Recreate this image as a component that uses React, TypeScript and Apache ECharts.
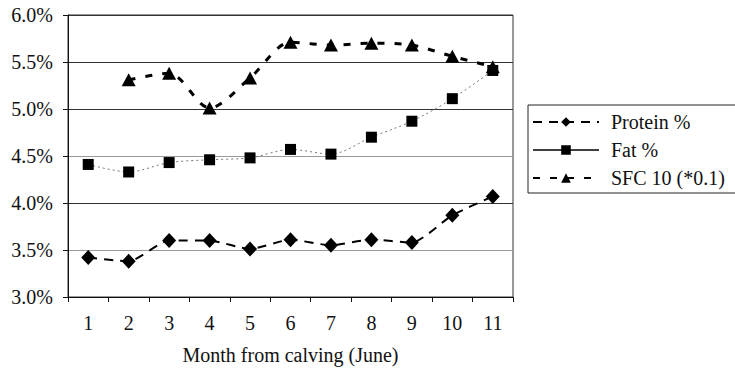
import React, { useEffect, useRef } from "react";
import * as echarts from "echarts";

// Months from calving
const months = ["1", "2", "3", "4", "5", "6", "7", "8", "9", "10", "11"];

// Milk composition by month (%)
const protein = [3.42, 3.38, 3.6, 3.6, 3.51, 3.61, 3.55, 3.61, 3.58, 3.87, 4.07];
const fat = [4.41, 4.33, 4.43, 4.46, 4.48, 4.57, 4.52, 4.7, 4.87, 5.11, 5.41];
// Solid fat content at 10 °C, scaled by 0.1 (no value for month 1)
const sfc10 = [null, 5.31, 5.38, 5.01, 5.33, 5.71, 5.68, 5.7, 5.68, 5.56, 5.45];

const seriesNames = ["Protein %", "Fat %", "SFC 10 (*0.1)"];

const FONT = "Liberation Serif";
const FS = 20;

export default function App() {
  const ref = useRef<HTMLDivElement>(null);

  useEffect(() => {
    if (!ref.current) return;
    const chart = echarts.init(ref.current, undefined, { renderer: "svg" });
    chart.setOption({
      animation: false,
      backgroundColor: "#fff",
      textStyle: { fontFamily: FONT, color: "#111" },
      grid: {
        left: 68,
        right: 222,
        top: 15,
        bottom: 76,
        show: true,
        borderColor: "#333",
        borderWidth: 1,
      },
      legend: {
        orient: "vertical",
        left: 528,
        top: 105,
        padding: [7, 60, 5, 4],
        itemWidth: 66,
        itemHeight: 12,
        itemGap: 8,
        borderColor: "#222",
        borderWidth: 1,
        textStyle: { fontFamily: FONT, fontSize: FS, color: "#111", padding: [0, 0, 0, 7] },
        data: [
          { name: seriesNames[0] },
          { name: seriesNames[1], lineStyle: { type: "solid", color: "#000", width: 1.5 } },
          { name: seriesNames[2] },
        ],
      },
      xAxis: {
        type: "category",
        data: months,
        boundaryGap: true,
        name: "Month from calving (June)",
        nameLocation: "middle",
        nameGap: 48,
        nameTextStyle: { fontFamily: FONT, fontSize: FS, color: "#111" },
        axisLine: { lineStyle: { color: "#111", width: 1 } },
        axisTick: { show: true, inside: false, length: 5, lineStyle: { color: "#111" } },
        axisLabel: { fontFamily: FONT, fontSize: FS, color: "#111", margin: 16 },
        splitLine: { show: false },
      },
      yAxis: {
        type: "value",
        min: 3,
        max: 6,
        interval: 0.5,
        axisLine: { show: true, lineStyle: { color: "#111", width: 1 } },
        axisTick: { show: true, inside: false, length: 5, lineStyle: { color: "#111" } },
        axisLabel: {
          fontFamily: FONT,
          fontSize: FS,
          color: "#111",
          margin: 15,
          formatter: (v: number) => v.toFixed(1) + "%",
        },
        splitLine: {
          show: true,
          lineStyle: {
            color: ["#333", "#999", "#333", "#999", "#333", "#333", "#333"],
            width: 1,
          },
        },
      },
      series: [
        {
          name: seriesNames[0],
          type: "line",
          data: protein,
          smooth: 0.2,
          symbol: "diamond",
          symbolSize: [14, 15],
          itemStyle: { color: "#000" },
          lineStyle: { color: "#000", width: 2, type: [9, 7] },
          z: 3,
        },
        {
          name: seriesNames[1],
          type: "line",
          data: fat,
          smooth: 0.3,
          symbol: "rect",
          symbolSize: 11,
          itemStyle: { color: "#000" },
          lineStyle: { color: "#777", width: 1, type: [2, 3] },
          z: 3,
        },
        {
          name: seriesNames[2],
          type: "line",
          data: sfc10,
          connectNulls: false,
          smooth: 0.3,
          symbol: "triangle",
          symbolSize: [14, 13],
          itemStyle: { color: "#000" },
          lineStyle: { color: "#000", width: 3, type: [7, 10] },
          z: 3,
        },
      ],
    });
    return () => chart.dispose();
  }, []);

  return (
    <div
      ref={ref}
      style={{ position: "fixed", left: 0, top: 0, width: 735, height: 373, background: "#fff" }}
    />
  );
}
